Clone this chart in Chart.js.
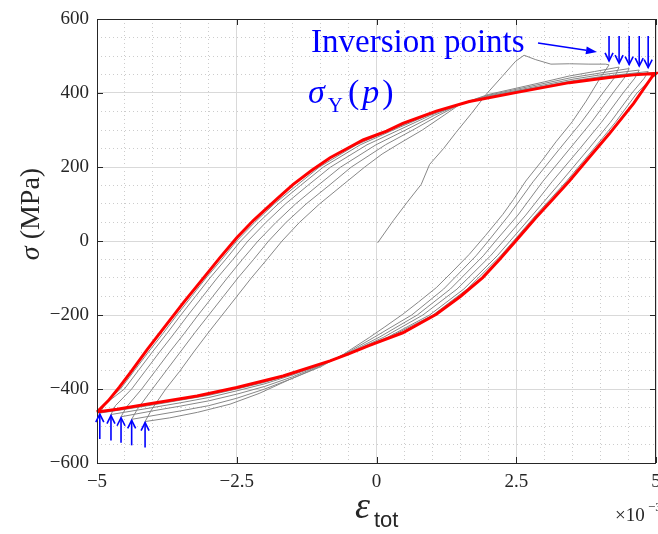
<!DOCTYPE html>
<html>
<head>
<meta charset="utf-8">
<script src="https://cdn.jsdelivr.net/npm/chart.js@4.4.0/dist/chart.umd.min.js"></script>
<style>
  html, body { margin: 0; padding: 0; background: #fff; }
</style>
</head>
<body>
<canvas id="loop-chart" width="658" height="534"></canvas>
<script>
Chart.defaults.font.family = '"Liberation Serif", serif';

// tick values (strain in 1e-3, stress in MPa)
const xTicks = [-5, -2.5, 0, 2.5, 5];
const yTicks = [-600, -400, -200, 0, 200, 400, 600];

// measured branches as [strain (x1e-3), stress (MPa)]
const initialLoading = [[0.02,-5],[0.3,55],[0.55,105],[0.8,153],[0.95,207],[1.2,250],[1.42,293],[1.7,345],[1.96,396],[2.25,445],[2.49,486],[2.64,502],[2.85,490],[3.12,478],[3.45,479],[3.8,478],[4.1,478],[4.16,476]];

const cycle1Down = [[4.16,476],[4.0,440],[3.75,378],[3.5,322],[3.21,268],[2.95,215],[2.67,162],[2.45,112],[2.26,72],[1.95,15],[1.66,-36],[1.35,-84],[1.07,-126],[0.75,-165],[0.47,-198],[0.15,-232],[-0.13,-261],[-0.59,-306],[-1.0,-340],[-1.55,-374],[-2.1,-412],[-2.62,-441],[-3.2,-463],[-3.7,-478],[-4.14,-488]];
const cycle1Up = [[-4.14,-488],[-4.02,-455],[-3.77,-400],[-3.52,-352],[-3.27,-300],[-3.0,-246],[-2.76,-200],[-2.5,-150],[-2.24,-100],[-1.95,-48],[-1.69,0],[-1.38,50],[-1.02,100],[-0.6,152],[-0.21,200],[0.1,235],[0.37,260],[0.82,300],[1.21,340],[1.5,370],[2.0,396],[2.5,413],[3.0,430],[3.45,446],[3.9,458],[4.34,470]];

const cycle2Down = [[4.34,470],[4.25,440],[4.05,400],[3.66,320],[3.28,250],[2.8,160],[2.37,70],[2.0,0],[1.78,-40],[1.2,-130],[0.63,-200],[-0.04,-260],[-0.5,-300],[-1.0,-338],[-1.5,-371],[-2.0,-400],[-2.5,-425],[-3.0,-445],[-3.5,-459],[-4.0,-472],[-4.38,-482]];
const cycle2Up = [[-4.38,-482],[-4.28,-455],[-4.01,-400],[-3.75,-348],[-3.51,-300],[-3.25,-248],[-3.0,-200],[-2.74,-150],[-2.48,-100],[-2.2,-50],[-1.93,0],[-1.62,50],[-1.26,100],[-0.85,150],[-0.45,200],[0.16,260],[0.65,300],[1.12,340],[1.5,370],[2.0,394],[2.5,410],[3.0,426],[3.5,442],[4.0,454],[4.52,466]];

const cycle3Down = [[4.52,466],[4.43,440],[4.23,400],[3.84,320],[3.46,250],[2.97,160],[2.53,70],[2.13,0],[1.91,-40],[1.32,-130],[0.73,-200],[0.05,-260],[-0.47,-300],[-1.0,-336],[-1.5,-367],[-2.0,-393],[-2.5,-414],[-3.0,-432],[-3.5,-446],[-4.0,-459],[-4.57,-475]];
const cycle3Up = [[-4.57,-475],[-4.48,-450],[-4.2,-400],[-3.95,-350],[-3.7,-300],[-3.44,-250],[-3.19,-200],[-2.93,-150],[-2.67,-100],[-2.4,-50],[-2.12,0],[-1.8,50],[-1.45,100],[-1.05,150],[-0.64,200],[-0.01,260],[0.52,300],[1.04,340],[1.5,370],[2.0,392],[2.5,407],[3.0,422],[3.5,437],[4.0,449],[4.7,462]];

const cycle4Down = [[4.7,462],[4.62,440],[4.41,400],[4.02,320],[3.64,250],[3.14,160],[2.67,70],[2.27,0],[2.04,-40],[1.44,-130],[0.83,-200],[0.13,-260],[-0.45,-300],[-1.0,-335],[-1.5,-362],[-2.0,-386],[-2.5,-405],[-3.0,-423],[-3.5,-437],[-4.0,-450],[-4.75,-469]];
const cycle4Up = [[-4.75,-469],[-4.67,-445],[-4.38,-400],[-4.13,-350],[-3.88,-300],[-3.62,-250],[-3.37,-200],[-3.11,-150],[-2.85,-100],[-2.57,-50],[-2.3,0],[-1.98,50],[-1.63,100],[-1.23,150],[-0.82,200],[-0.17,260],[0.4,300],[0.97,340],[1.5,370],[2.0,390],[2.5,405],[3.0,419],[3.5,433],[4.0,444],[4.86,458]];

const cycle5Down = [[4.86,458],[4.79,440],[4.57,400],[4.18,320],[3.8,250],[3.3,160],[2.79,70],[2.39,0],[2.16,-40],[1.56,-130],[0.95,-200],[0.2,-260],[-0.44,-300],[-1.0,-333],[-1.5,-359],[-2.0,-382],[-2.5,-400],[-3.0,-417],[-3.5,-430],[-4.0,-443],[-4.5,-455],[-4.95,-465]];
const cycle5Up = [[-4.95,-465],[-4.85,-440],[-4.51,-400],[-4.26,-350],[-4.01,-300],[-3.75,-250],[-3.5,-200],[-3.24,-150],[-2.98,-100],[-2.7,-50],[-2.43,0],[-2.11,50],[-1.76,100],[-1.36,150],[-0.95,200],[-0.29,260],[0.3,300],[0.92,340],[1.5,370],[2.0,389],[2.5,403],[3.0,417],[3.5,431],[4.0,442],[4.5,450],[5.0,455]];

const cycle6Down = [[5,455],[4.92,440],[4.66,400],[4.27,320],[3.89,250],[3.39,160],[2.85,70],[2.45,0],[2.22,-40],[1.62,-130],[1.01,-200],[0.23,-260],[-0.43,-300],[-1.0,-333],[-1.5,-358],[-2.0,-380],[-2.5,-398],[-3.0,-415],[-3.5,-428],[-4.0,-440],[-4.5,-453],[-5,-463]];
const cycle6Up = [[-5,-463],[-4.9,-445],[-4.58,-400],[-4.33,-350],[-4.08,-300],[-3.82,-250],[-3.57,-200],[-3.31,-150],[-3.05,-100],[-2.77,-50],[-2.5,0],[-2.18,50],[-1.83,100],[-1.43,150],[-1.02,200],[-0.36,260],[0.25,300],[0.89,340],[1.5,370],[2.0,388],[2.5,402],[3.0,416],[3.5,430],[4.16,445],[4.6,451],[5,455]];

// stabilised loop sigma_Y(p), drawn in red
const redUp = [[-5,-462],[-4.8,-432],[-4.6,-395],[-4.4,-355],[-4.1,-293],[-3.81,-236],[-3.45,-166],[-3.09,-99],[-2.8,-45],[-2.5,9],[-2.2,56],[-2.02,81],[-1.75,118],[-1.49,153],[-1.15,192],[-0.83,225],[-0.5,252],[-0.24,273],[0.18,297],[0.47,318],[1.07,351],[1.66,377],[2.49,401],[3.45,428],[4.16,442],[4.6,449],[5,453]];
const redDown = [[5,453],[4.93,444],[4.6,372],[4.16,289],[3.8,225],[3.45,162],[3.15,112],[2.85,63],[2.49,0],[2.2,-50],[1.9,-99],[1.5,-150],[1.07,-198],[0.47,-248],[-0.125,-282],[-0.5,-305],[-0.83,-324],[-1.67,-365],[-2.5,-396],[-3.21,-419],[-4.11,-441],[-4.64,-455],[-5,-462]];

const grayBranches = [initialLoading, cycle1Down, cycle1Up, cycle2Down, cycle2Up, cycle3Down, cycle3Up, cycle4Down, cycle4Up, cycle5Down, cycle5Up, cycle6Down, cycle6Up];
// cycles whose reversal points get an arrow
const markedCycles = [cycle1Down, cycle2Down, cycle3Down, cycle4Down, cycle5Down];

const toPoints = pairs => pairs.map(p => ({ x: p[0], y: p[1] }));
const isMultiple = (v, step) => Math.abs(v / step - Math.round(v / step)) < 1e-6;
const minus = v => (v < 0 ? '\u2212' + Math.abs(v) : String(v));

const TEXT = '#262626';
const BLUE = '#0000ff';

const datasets = grayBranches.map(b => ({
  data: toPoints(b),
  showLine: true,
  borderColor: '#878787',
  borderWidth: 1,
  pointRadius: 0,
  tension: 0,
  order: 1,
  clip: false
}));
datasets.push({
  data: toPoints(redUp.concat(redDown.slice(1))),
  showLine: true,
  borderColor: '#ff0000',
  borderWidth: 3,
  pointRadius: 0,
  tension: 0,
  order: 0,
  clip: false
});

function drawArrow(ctx, x1, y1, x2, y2, len, half, filled) {
  const a = Math.atan2(y2 - y1, x2 - x1);
  const bx = x2 - len * Math.cos(a), by = y2 - len * Math.sin(a);
  const px = -Math.sin(a) * half, py = Math.cos(a) * half;
  ctx.beginPath();
  ctx.moveTo(x1, y1);
  ctx.lineTo(filled ? bx : x2, filled ? by : y2);
  ctx.stroke();
  ctx.beginPath();
  ctx.moveTo(bx + px, by + py);
  ctx.lineTo(x2, y2);
  ctx.lineTo(bx - px, by - py);
  if (filled) { ctx.closePath(); ctx.fill(); } else { ctx.stroke(); }
}

// box + inward tick marks, matlab style
const framePlugin = {
  id: 'frame',
  afterDatasetsDraw(chart) {
    const { ctx, chartArea: a, scales: { x, y } } = chart;
    ctx.save();
    ctx.strokeStyle = TEXT;
    ctx.lineWidth = 1;
    ctx.strokeRect(a.left + 0.5, a.top + 0.5, a.right - a.left - 1, a.bottom - a.top);
    ctx.beginPath();
    xTicks.forEach(v => {
      const px = Math.round(x.getPixelForValue(v)) + 0.5;
      ctx.moveTo(px, a.bottom); ctx.lineTo(px, a.bottom - 6);
      ctx.moveTo(px, a.top); ctx.lineTo(px, a.top + 6);
    });
    yTicks.forEach(v => {
      const py = Math.round(y.getPixelForValue(v)) + 0.5;
      ctx.moveTo(a.left, py); ctx.lineTo(a.left + 6, py);
      ctx.moveTo(a.right, py); ctx.lineTo(a.right - 6, py);
    });
    ctx.stroke();
    ctx.restore();
  }
};

const labelPlugin = {
  id: 'labels',
  afterDraw(chart) {
    const { ctx, scales: { x, y } } = chart;
    ctx.save();
    ctx.textBaseline = 'alphabetic';
    ctx.textAlign = 'left';

    // y axis title
    ctx.save();
    ctx.translate(39, 214);
    ctx.rotate(-Math.PI / 2);
    ctx.fillStyle = TEXT;
    ctx.font = 'italic 28px "Liberation Serif"';
    const wSig = ctx.measureText('\u03c3').width;
    ctx.font = '28px "Liberation Serif"';
    const wRest = ctx.measureText(' (MPa)').width;
    let sx = -(wSig + wRest) / 2;
    ctx.font = 'italic 28px "Liberation Serif"';
    ctx.fillText('\u03c3', sx, 0);
    ctx.font = '28px "Liberation Serif"';
    ctx.fillText(' (MPa)', sx + wSig, 0);
    ctx.restore();

    // x axis title
    ctx.fillStyle = TEXT;
    ctx.font = 'italic 38px "Liberation Serif"';
    ctx.fillText('\u03b5', 355, 518);
    ctx.font = '22px "Liberation Sans"';
    ctx.fillText('tot', 374, 527);

    // exponent
    ctx.font = '19px "Liberation Serif"';
    ctx.fillText('\u00d710', 615, 521);
    ctx.font = '13px "Liberation Serif"';
    ctx.fillText('\u22123', 648, 511);

    // annotations
    ctx.fillStyle = BLUE;
    ctx.strokeStyle = BLUE;
    ctx.font = '33px "Liberation Serif"';
    ctx.fillText('Inversion points', 311, 52);
    ctx.lineWidth = 1.5;
    drawArrow(ctx, 538, 43, 597, 52, 11, 4, true);

    let tx = 308;
    ctx.font = 'italic 34px "Liberation Serif"';
    ctx.fillText('\u03c3', tx, 103);
    tx += ctx.measureText('\u03c3').width + 3;
    ctx.font = '21px "Liberation Serif"';
    ctx.fillText('Y', tx, 112);
    tx += ctx.measureText('Y').width + 5;
    ctx.font = '34px "Liberation Serif"';
    ctx.fillText('(', tx, 103);
    tx += ctx.measureText('(').width + 3;
    ctx.font = 'italic 34px "Liberation Serif"';
    ctx.fillText('p', tx, 103);
    tx += ctx.measureText('p').width + 3;
    ctx.font = '34px "Liberation Serif"';
    ctx.fillText(')', tx, 103);

    // arrows at the reversal points
    ctx.lineWidth = 1.6;
    markedCycles.forEach(c => {
      const top = c[0], bot = c[c.length - 1];
      const px = x.getPixelForValue(top[0]);
      const py = y.getPixelForValue(top[1]) - 4;
      drawArrow(ctx, px, 36, px, py, 8, 4, false);
      const bx = x.getPixelForValue(bot[0]);
      const by = y.getPixelForValue(bot[1]) + 1;
      drawArrow(ctx, bx, by + 25, bx, by, 8, 4, false);
    });
    ctx.restore();
  }
};

const gridColor = c => {
  const v = c.tick ? c.tick.value : 0;
  return c.scale.axis === 'x'
    ? (isMultiple(v, 2.5) ? '#d9d9d9' : '#cccccc')
    : (isMultiple(v, 200) ? '#d9d9d9' : '#cccccc');
};
const gridDash = c => {
  if (!c.tick) return [];
  const step = c.scale.axis === 'x' ? 2.5 : 200;
  return isMultiple(c.tick.value, step) ? [] : [1, 3];
};

const ctx = document.getElementById('loop-chart').getContext('2d');
new Chart(ctx, {
  type: 'scatter',
  data: { datasets },
  plugins: [framePlugin, labelPlugin],
  options: {
    responsive: false,
    animation: false,
    layout: { padding: { top: 19, right: 2, left: 0, bottom: 0 } },
    plugins: { legend: { display: false }, tooltip: { enabled: false } },
    scales: {
      x: {
        type: 'linear',
        min: -5,
        max: 5,
        afterFit: s => { s.height = 71; s.paddingLeft = 0; s.paddingRight = 0; },
        ticks: {
          stepSize: 0.5,
          maxTicksLimit: 100,
          autoSkip: false,
          maxRotation: 0,
          padding: 8,
          color: TEXT,
          font: { size: 19 },
          callback: v => (isMultiple(v, 2.5) ? minus(v) : '')
        },
        grid: { drawTicks: false, color: gridColor, lineWidth: 1 },
        border: { display: false, dash: gridDash }
      },
      y: {
        type: 'linear',
        min: -600,
        max: 600,
        afterFit: s => { s.width = 97; s.paddingTop = 0; s.paddingBottom = 0; },
        ticks: {
          stepSize: 50,
          maxTicksLimit: 100,
          autoSkip: false,
          padding: 8,
          color: TEXT,
          font: { size: 19 },
          callback: v => (isMultiple(v, 200) ? minus(v) : '')
        },
        grid: { drawTicks: false, color: gridColor, lineWidth: 1 },
        border: { display: false, dash: gridDash }
      }
    }
  }
});
</script>
</body>
</html>
